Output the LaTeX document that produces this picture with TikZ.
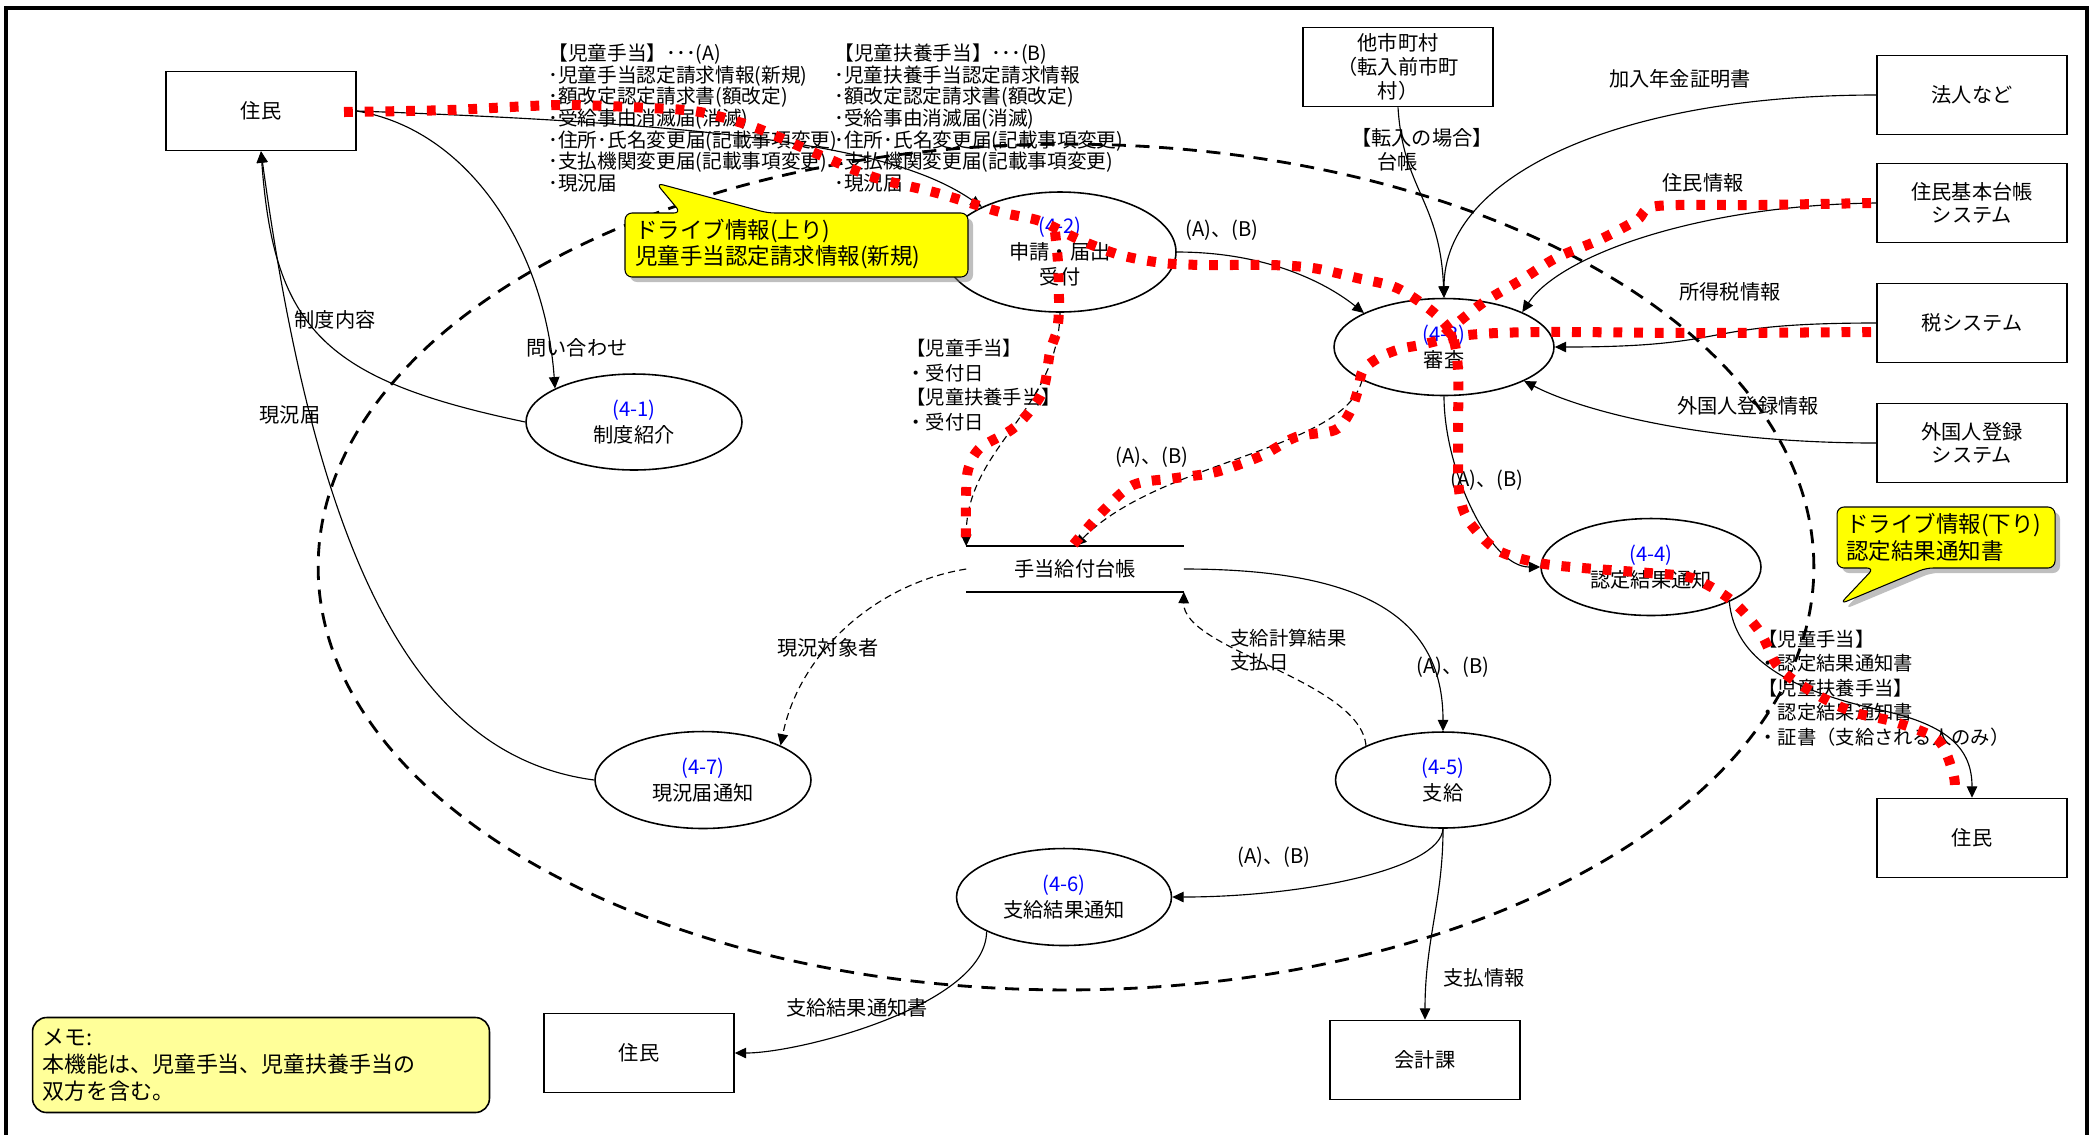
\documentclass[tikz,border=0pt]{standalone}
\usepackage{fontspec}
\setmainfont{Noto Sans CJK JP}
\usepackage{xcolor}
\usepackage{tikz}
\usetikzlibrary{shapes,arrows,positioning,fit,calc,arrows.meta,shadows}

\definecolor{memofill}{HTML}{FFFF99}
\definecolor{notefill}{HTML}{FFFF00}

\begin{document}
\begin{tikzpicture}[x=0.02cm, y=-0.02cm,
    box/.style={draw, line width=0.9pt, minimum width=3.8cm, minimum height=1.58cm, inner sep=0pt, align=center, font=\fontsize{11.5}{13.5}\selectfont},
    proc/.style={draw, ellipse, line width=0.9pt, inner sep=0pt, align=center, font=\fontsize{11.5}{14.5}\selectfont},
    lbl/.style={inner sep=0pt, font=\fontsize{11.5}{14}\selectfont},
    lst/.style={inner sep=0pt, align=left, anchor=west, font=\fontsize{11}{13.9}\selectfont},
    conn/.style={line width=0.65pt, -{Triangle[length=6.5pt,width=6pt]}},
    dconn/.style={conn, dash pattern=on 4pt off 2.5pt},
    drive/.style={red, line width=5.7pt, dash pattern=on 5pt off 6.8pt},
    note/.style={draw, line width=0.6pt, fill=notefill, rounded corners=4pt,
        drop shadow={shadow xshift=0.1cm, shadow yshift=-0.1cm}},
    notetext/.style={inner sep=0pt, align=left, anchor=west, font=\fontsize{12.8}{15.3}\selectfont}]

    \useasboundingbox (0,0) rectangle (2098,1134);
    % frame
    \draw[line width=2.3pt] (6,1150) -- (6,8) -- (2087,8) -- (2087,1150);

    % system boundary
    \draw[dash pattern=on 8pt off 5.5pt, line width=1.6pt] (1066,567) ellipse [x radius=14.96cm, y radius=8.46cm];

    % external entities
    \node[box] (resL) at (261,111) {住民};
    \node[box] (other) at (1398,67) {他市町村\\（転入前市町\\村）};
    \node[box] (corp) at (1972,95) {法人など};
    \node[box] (basic) at (1972,203) {住民基本台帳\\システム};
    \node[box] (tax) at (1972,323) {税システム};
    \node[box] (alien) at (1972,443) {外国人登録\\システム};
    \node[box] (resR) at (1972,838) {住民};
    \node[box] (resB) at (639,1053) {住民};
    \node[box] (acct) at (1425,1060) {会計課};

    % processes
    \node[proc, minimum width=4.32cm, minimum height=1.92cm] (p41) at (634,422) {\textcolor{blue}{(4-1)}\\制度紹介};
    \node[proc, minimum width=4.64cm, minimum height=2.4cm] (p42) at (1060,252) {\textcolor{blue}{(4-2)}\\申請・届出\\受付};
    \node[proc, minimum width=4.4cm, minimum height=1.94cm] (p43) at (1444,347) {\textcolor{blue}{(4-3)}\\審査};
    \node[proc, minimum width=4.4cm, minimum height=1.94cm] (p44) at (1651,567) {\textcolor{blue}{(4-4)}\\認定結果通知};
    \node[proc, minimum width=4.3cm, minimum height=1.92cm] (p45) at (1443,780) {\textcolor{blue}{(4-5)}\\支給};
    \node[proc, minimum width=4.3cm, minimum height=1.94cm] (p46) at (1064,897) {\textcolor{blue}{(4-6)}\\支給結果通知};
    \node[proc, minimum width=4.32cm, minimum height=1.94cm] (p47) at (703,780) {\textcolor{blue}{(4-7)}\\現況届通知};

    % data store
    \node[minimum width=4.34cm, minimum height=0.9cm, inner sep=0pt, font=\fontsize{11.5}{14}\selectfont] (ledger) at (1075,569) {手当給付台帳};
    \draw[line width=0.9pt] (ledger.north west) -- (ledger.north east) (ledger.south west) -- (ledger.south east);

    % memo
    \node[draw, line width=0.9pt, fill=memofill, rounded corners=8pt, minimum width=9.14cm, minimum height=1.9cm,
        text width=8.75cm, align=left, inner sep=0pt, font=\fontsize{12.5}{15.6}\selectfont] (memo) at (261,1065)
        {メモ:\\本機能は、児童手当、児童扶養手当の\\双方を含む。};

    % flows
    \draw[conn] (resL.east) .. controls (750,125) and (900,150) .. (p42.150);
    \draw[conn] (resL.east) .. controls (470,130) and (545,250) .. (p41.157);
    \draw[conn] (p41.west) .. controls (325,380) and (274,330) .. (resL.south);
    \draw[conn] (p47.west) .. controls (419,757) and (318,569) .. (resL.south);
    \draw[dconn] (ledger.west) .. controls (874,584) and (799,654) .. (p47.24);
    \draw[conn] (p42.east) .. controls (1270,252) and (1329,285) .. (p43.157);
    \draw[conn] (other.south) .. controls (1403,190) and (1440,200) .. (p43.north);
    \draw[conn] (corp.west) .. controls (1617,95) and (1444,176) .. (p43.north);
    \draw[conn] (basic.west) .. controls (1700,205) and (1560,255) .. (p43.24);
    \draw[conn] (tax.west) .. controls (1690,323) and (1740,347) .. (p43.east);
    \draw[conn] (alien.west) .. controls (1700,443) and (1580,410) .. (p43.-23);
    \draw[conn] (p43.south) .. controls (1444,470) and (1490,567) .. (p44.west);
    \draw[dconn] (p43.202) .. controls (1345,450) and (1160,460) .. (ledger.north);
    \draw[dconn] (p42.south) .. controls (1058,411) and (966,448) .. (ledger.north west);
    \draw[conn] (ledger.east) .. controls (1365,569) and (1443,618) .. (p45.north);
    \draw[dconn] (p45.156) .. controls (1360,680) and (1183,650) .. (ledger.south east);
    \draw[conn] (p45.south) .. controls (1440,870) and (1300,897) .. (p46.east);
    \draw[conn] (p45.south) .. controls (1443,900) and (1425,940) .. (acct.north);
    \draw[conn] (p46.204) .. controls (986,1005) and (800,1053) .. (resB.east);
    \draw[conn] (p44.-24) .. controls (1735,660) and (1790,690) .. (1880,710) .. controls (1950,725) and (1972,750) .. (resR.north);

    % drive info callouts
    \path[note] (625,213) -- (681,213) -- (656,183) -- (768,213) -- (968,213) -- (968,277) -- (625,277) -- cycle;
    \node[notetext] (upnote) at (635,244) {ドライブ情報(上り)\\児童手当認定請求情報(新規)};
    \path[note] (1837,507) -- (2055,507) -- (2055,568) -- (1926,568) -- (1840,604) -- (1874,568) -- (1837,568) -- cycle;
    \node[notetext] (downnote) at (1846,537) {ドライブ情報(下り)\\認定結果通知書};

    % flow labels
    \node[lst, font=\fontsize{11.2}{12.3}\selectfont] (listA) at (548,118) {【児童手当】･･･(A)\\･児童手当認定請求情報(新規)\\･額改定認定請求書(額改定)\\･受給事由消滅届(消滅)\\･住所･氏名変更届(記載事項変更)\\･支払機関変更届(記載事項変更)\\･現況届};
    \node[lst, font=\fontsize{11.2}{12.3}\selectfont] (listB) at (834,118) {【児童扶養手当】･･･(B)\\･児童扶養手当認定請求情報\\･額改定認定請求書(額改定)\\･受給事由消滅届(消滅)\\･住所･氏名変更届(記載事項変更)\\･支払機関変更届(記載事項変更)\\･現況届};
    \node[lbl] (lq) at (577,348) {問い合わせ};
    \node[lbl] (lseido) at (335,320) {制度内容};
    \node[lbl] (lgen) at (290,415) {現況届};
    \node[lbl] (ltarget) at (828,648) {現況対象者};
    \node[lbl] (lab1) at (1222,230) {(A)、(B)};
    \node[lst, font=\fontsize{11.5}{13.5}\selectfont] (ltennyu) at (1351,150) {【転入の場合】\\\hspace*{1.3em}台帳};
    \node[lbl] (lpension) at (1680,79) {加入年金証明書};
    \node[lbl] (lresinfo) at (1703,183) {住民情報};
    \node[lbl] (ltaxinfo) at (1730,292) {所得税情報};
    \node[lbl] (lalieninfo) at (1748,406) {外国人登録情報};
    \node[lbl] (lab2) at (1487,480) {(A)、(B)};
    \node[lbl] (lab3) at (1152,457) {(A)、(B)};
    \node[lst] (lrecv) at (906,385) {【児童手当】\\・受付日\\【児童扶養手当】\\・受付日};
    \node[lbl] (lab4) at (1453,667) {(A)、(B)};
    \node[lst] (lcalc) at (1230,650) {支給計算結果\\支払日};
    \node[lbl] (lab5) at (1274,857) {(A)、(B)};
    \node[lbl] (lpay) at (1484,978) {支払情報};
    \node[lbl] (lresult) at (857,1008) {支給結果通知書};
    \node[lst] (lnotice) at (1758,688) {【児童手当】\\・認定結果通知書\\【児童扶養手当】\\・認定結果通知書\\・証書（支給される人のみ）};

    % drive info paths
    \draw[drive] plot[smooth] coordinates {(344,112) (450,110) (560,105) (650,108) (700,112) (754,127) (815,153) (873,177) (937,193) (1000,212) (1040,221) (1080,240) (1120,255) (1163,263) (1205,265) (1270,265) (1313,268) (1357,278) (1397,288) (1433,312) (1452,335) (1458,370) (1458,440) (1459,490) (1468,520) (1497,550) (1539,563) (1583,568) (1649,573) (1692,578) (1731,600) (1760,632) (1779,668) (1814,693) (1853,712) (1895,722) (1938,740) (1953,773) (1955,790)};
    \draw[drive] plot[smooth] coordinates {(1055,232) (1058,263) (1059,307) (1057,330) (1050,352) (1042,393) (1015,427) (980,448) (968,470) (966,500) (966,540)};
    \draw[drive] plot[smooth] coordinates {(1871,203) (1760,205) (1657,206) (1637,220) (1599,240) (1556,258) (1521,280) (1484,302) (1455,325) (1443,336)};
    \draw[drive] plot[smooth] coordinates {(1871,332) (1700,333) (1542,332) (1468,335) (1420,345) (1400,349) (1380,357) (1363,370) (1358,390) (1350,412) (1335,430) (1296,437) (1261,456) (1216,472) (1176,478) (1133,485) (1102,512) (1073,545)};
\end{tikzpicture}
\end{document}
